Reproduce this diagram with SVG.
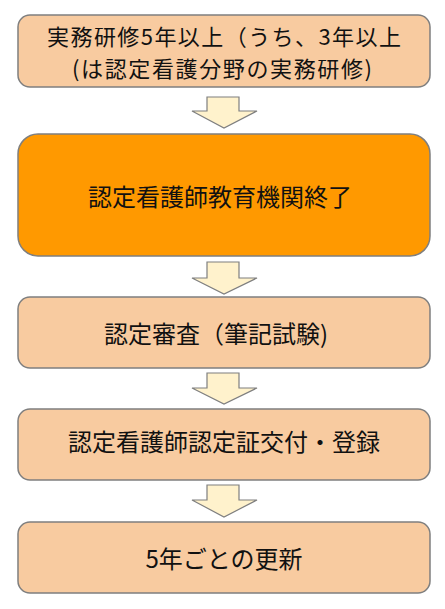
<svg xmlns="http://www.w3.org/2000/svg" width="445" height="609" viewBox="0 0 445 609">
<style>
.box{fill:#F8CBA0;stroke:#7F7F7F;stroke-width:1.5}
.main{fill:#FF9900;stroke:#7F7F7F;stroke-width:1.5}
.arr{fill:#FFF2CC;stroke:#7F7F7F;stroke-width:1.2}
text{font-family:"Noto Sans CJK JP","Noto Sans",sans-serif;font-size:24px;fill:#111;text-anchor:middle;dominant-baseline:central}
.sm{font-size:22px}
</style>
<rect width="445" height="609" fill="#fff"/>
<g id="connectors">
<path class="arr" d="M207,97 H239 V111 H257 L224,128 L192,111 H207 Z"/>
<path class="arr" d="M207,262 H239 V278 H257 L224,294 L192,278 H207 Z"/>
<path class="arr" d="M207,373 H239 V388 H257 L224,404 L192,388 H207 Z"/>
<path class="arr" d="M207,485 H239 V500 H257 L224,517 L192,500 H207 Z"/>
</g>
<g id="n1">
<rect class="box" x="18" y="15" width="412" height="72" rx="12"/>
<text class="sm" x="224" y="35" textLength="354" lengthAdjust="spacing">実務研修5年以上（うち、3年以上</text>
<text class="sm" x="222" y="67" textLength="300" lengthAdjust="spacing">(は認定看護分野の実務研修)</text>
</g>
<g id="n2">
<rect class="main" x="18" y="134" width="412" height="122" rx="20"/>
<text x="220" y="195">認定看護師教育機関終了</text>
</g>
<g id="n3">
<rect class="box" x="18" y="297" width="412" height="71" rx="12"/>
<text x="216" y="332">認定審査（筆記試験)</text>
</g>
<g id="n4">
<rect class="box" x="18" y="409" width="412" height="71" rx="12"/>
<text x="224" y="440">認定看護師認定証交付・登録</text>
</g>
<g id="n5">
<rect class="box" x="18" y="522" width="412" height="71" rx="12"/>
<text x="224" y="557">5年ごとの更新</text>
</g>
</svg>
